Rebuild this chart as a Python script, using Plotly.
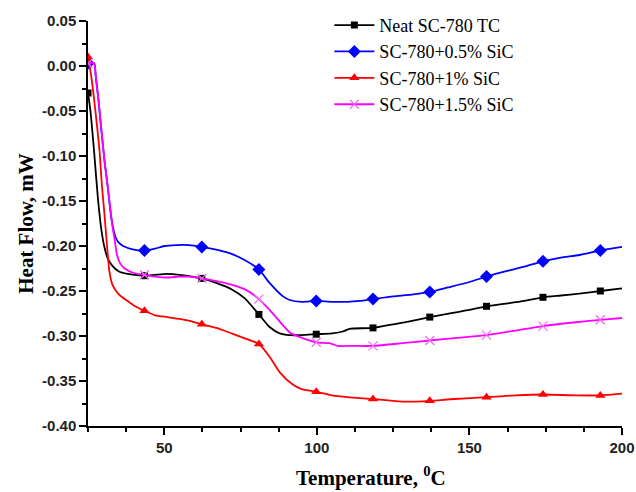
import plotly.graph_objects as go

# DSC heat-flow curves (temperature in °C, heat flow in mW)
neat_t = [25, 25.8, 27, 28.2, 29.3, 30.3, 31.5, 33, 35, 38, 43.5, 47, 51, 55, 62.3,
          67, 72, 76.3, 81, 84.5, 87.8, 91.1, 95, 99.8, 105, 108.5, 110.7, 118.4,
          125, 130, 137, 145, 150, 155.6, 162, 168, 174.1, 180, 186, 192.9, 200]
neat_q = [-0.030, -0.050, -0.095, -0.145, -0.180, -0.200, -0.214, -0.222, -0.228, -0.231,
          -0.233, -0.232, -0.231, -0.232, -0.236, -0.241, -0.248, -0.258, -0.276, -0.290,
          -0.297, -0.299, -0.299, -0.298, -0.297, -0.295, -0.292, -0.291, -0.287, -0.284,
          -0.279, -0.274, -0.271, -0.267, -0.264, -0.261, -0.257, -0.255, -0.253, -0.250,
          -0.247]

sic05_t = [25, 27, 27.5, 28.5, 29.5, 30.5, 31.5, 32.3, 33, 34, 35, 36.5, 40, 43.5, 47,
           50, 53.9, 58, 62.3, 67, 71.4, 76, 81, 84.5, 88.9, 91.1, 95, 99.8, 105, 110,
           114, 118.4, 125, 131, 137, 143, 150, 155.6, 162, 168, 174.1, 180, 186,
           192.9, 200]
sic05_q = [0.003, 0.003, -0.010, -0.040, -0.075, -0.108, -0.135, -0.160, -0.176, -0.190,
           -0.196, -0.200, -0.204, -0.205, -0.203, -0.200, -0.199, -0.199, -0.201, -0.204,
           -0.208, -0.215, -0.226, -0.241, -0.256, -0.260, -0.262, -0.261, -0.262, -0.262,
           -0.261, -0.259, -0.256, -0.254, -0.251, -0.246, -0.240, -0.234, -0.228, -0.223,
           -0.217, -0.213, -0.210, -0.205, -0.201]

sic1_t = [25, 26, 27.1, 28, 28.8, 29.5, 30.4, 31, 32, 33, 34.2, 35.5, 37.5, 40, 43.5,
          47, 51, 55, 58, 62.3, 67, 72, 76, 81, 84.5, 88, 92.1, 95, 99.8, 105, 110,
          118.4, 125, 130, 137, 145, 155.6, 165, 174.1, 185, 192.9, 200]
sic1_q = [0.010, -0.010, -0.040, -0.068, -0.095, -0.130, -0.165, -0.190, -0.228, -0.243,
          -0.250, -0.255, -0.260, -0.266, -0.272, -0.277, -0.279, -0.281, -0.283, -0.287,
          -0.291, -0.297, -0.302, -0.309, -0.323, -0.341, -0.354, -0.359, -0.362, -0.366,
          -0.368, -0.370, -0.372, -0.373, -0.372, -0.370, -0.368, -0.366, -0.365, -0.366,
          -0.366, -0.364]

sic15_t = [25, 27, 27.5, 28.5, 29.5, 30.5, 31.5, 32.3, 33, 33.7, 34.5, 35.5, 37, 40,
           43.5, 47, 51, 55, 58, 62.3, 67, 72, 76.9, 81, 84.5, 88.9, 91.1, 94.3, 99.8,
           104.2, 106.9, 112, 118.4, 128, 137, 146, 155.6, 165, 174.1, 184, 192.9, 200]
sic15_q = [0.003, 0.003, -0.010, -0.040, -0.075, -0.108, -0.135, -0.158, -0.178, -0.192,
           -0.210, -0.219, -0.225, -0.230, -0.232, -0.234, -0.235, -0.234, -0.234, -0.236,
           -0.239, -0.243, -0.249, -0.259, -0.271, -0.288, -0.296, -0.301, -0.307, -0.308,
           -0.311, -0.311, -0.311, -0.308, -0.305, -0.302, -0.299, -0.294, -0.289, -0.285,
           -0.282, -0.280]

# temperatures where the symbols are placed along every curve
marker_t = [25, 43.5, 62.3, 81, 99.8, 118.4, 137, 155.6, 174.1, 192.9]

series_names = ["Neat SC-780 TC", "SC-780+0.5% SiC", "SC-780+1% SiC", "SC-780+1.5% SiC"]
series_t = [neat_t, sic05_t, sic1_t, sic15_t]
series_q = [neat_q, sic05_q, sic1_q, sic15_q]

y_tickvals = [0.05, 0.0, -0.05, -0.10, -0.15, -0.20, -0.25, -0.30, -0.35, -0.40]
y_ticktext = ["0.05", "0.00", "-0.05", "-0.10", "-0.15", "-0.20", "-0.25", "-0.30",
              "-0.35", "-0.40"]
x_tickvals = [50, 100, 150, 200]

styles = [
    dict(color="#000000", marker=dict(symbol="square", size=7, color="#000000")),
    dict(color="#0000FF", marker=dict(symbol="diamond", size=10, color="#0000FF")),
    dict(color="#FF0000", marker=dict(symbol="triangle-up", size=9, color="#FF0000")),
    dict(color="#FF00FF", marker=dict(symbol="x-thin", size=9, color="#F070F0",
                                      line=dict(width=1.3, color="#F070F0"))),
]

fig = go.Figure()
for name, t, q, st in zip(series_names, series_t, series_q, styles):
    # smooth curve
    fig.add_trace(go.Scatter(
        x=t, y=q, mode="lines", line=dict(color=st["color"], width=1.8,
                                          shape="spline", smoothing=0.6),
        showlegend=False, legendgroup=name, hoverinfo="skip"))
    # symbols
    mt = [x for x in t if x in marker_t]
    mq = [q[t.index(x)] for x in mt]
    fig.add_trace(go.Scatter(
        x=mt, y=mq, mode="markers", marker=st["marker"],
        showlegend=False, legendgroup=name, name=name))
    # legend entry
    fig.add_trace(go.Scatter(
        x=[None], y=[None], mode="lines+markers", name=name, legendgroup=name,
        line=dict(color=st["color"], width=1.8), marker=st["marker"]))

tick_font = dict(family="Liberation Sans, Arial, sans-serif", size=15,
                 color="#222222", weight="bold")
title_font = dict(family="Liberation Serif, Times New Roman, serif", size=21,
                  color="#000000", weight="bold")

fig.update_layout(
    width=636, height=492,
    margin=dict(l=88, r=14, t=21, b=66, autoexpand=False),
    paper_bgcolor="white", plot_bgcolor="white",
    showlegend=True,
    legend=dict(x=0.452, y=1.035, xanchor="left", yanchor="top",
                bgcolor="rgba(0,0,0,0)", borderwidth=0,
                font=dict(family="Liberation Serif, Times New Roman, serif",
                          size=18, color="#000000"),
                tracegroupgap=0, itemwidth=40),
    xaxis=dict(
        range=[25, 200], tickvals=x_tickvals, ticks="outside", ticklen=7,
        tickwidth=1.5, tickcolor="#000000", showline=True, linecolor="#000000",
        linewidth=1.5, showgrid=False, zeroline=False, tickfont=tick_font,
        minor=dict(dtick=12.5, tick0=0, ticks="outside", ticklen=4, tickwidth=1.5,
                   tickcolor="#000000", showgrid=False),
    ),
    yaxis=dict(
        range=[-0.40, 0.05], tickvals=y_tickvals, ticktext=y_ticktext,
        ticks="outside", ticklen=7, tickwidth=1.5, tickcolor="#000000",
        showline=True, linecolor="#000000", linewidth=1.5, showgrid=False,
        zeroline=False, tickfont=tick_font,
        minor=dict(dtick=0.025, tick0=0, ticks="outside", ticklen=4, tickwidth=1.5,
                   tickcolor="#000000", showgrid=False),
        title=dict(text="Heat Flow, mW", font=title_font, standoff=3),
    ),
    annotations=[dict(
        text="Temperature, <sup>0</sup>C", xref="paper", yref="paper",
        x=0.53, y=-0.125, xanchor="center", yanchor="middle", showarrow=False,
        font=title_font,
    )],
)

fig.write_html("out.html")
